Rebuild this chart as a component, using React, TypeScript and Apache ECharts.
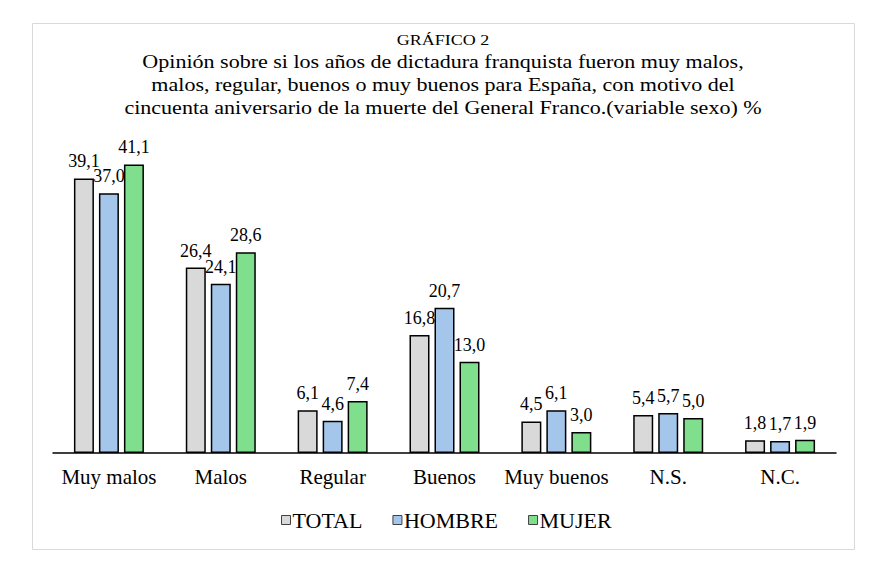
import React, { useEffect, useRef } from "react";
import * as echarts from "echarts";

const categories = ["Muy malos", "Malos", "Regular", "Buenos", "Muy buenos", "N.S.", "N.C."];
const totalValues = [39.1, 26.4, 6.1, 16.8, 4.5, 5.4, 1.8];
const hombreValues = [37.0, 24.1, 4.6, 20.7, 6.1, 5.7, 1.7];
const mujerValues = [41.1, 28.6, 7.4, 13.0, 3.0, 5.0, 1.9];
const seriesNames = ["TOTAL", "HOMBRE", "MUJER"];
const seriesColors = ["#d9d9d9", "#a4c6ea", "#7fdf8c"];
const chartLabel = "GRÁFICO 2";
const titleLines = [
  "Opinión sobre si los años de dictadura franquista fueron muy malos,",
  "malos, regular, buenos o muy buenos para España, con motivo del",
  "cincuenta aniversario de la muerte del General Franco.(variable sexo) %",
];

const FONT = "Liberation Serif, Times New Roman, serif";
const CX = 443;

export default function App() {
  const ref = useRef<HTMLDivElement>(null);
  useEffect(() => {
    if (!ref.current) return;
    const chart = echarts.init(ref.current, null, { renderer: "svg" });
    const data = [totalValues, hombreValues, mujerValues];
    const mkText = (text: string, y: number, size: number) => ({
      type: "text",
      x: CX,
      y,
      scaleX: 1.16,
      style: {
        text,
        fontFamily: FONT,
        fontSize: size,
        fill: "#000",
        textAlign: "center",
        textVerticalAlign: "middle",
      },
      silent: true,
    });
    const titleGraphics: any[] = [
      mkText(chartLabel, 40, 15.5),
      ...titleLines.map((t, i) => mkText(t, 62 + i * 23, 19)),
    ];
    chart.setOption({
      animation: false,
      backgroundColor: "#ffffff",
      textStyle: { fontFamily: FONT },
      graphic: [
        {
          type: "rect",
          shape: { x: 32.5, y: 23.5, width: 822, height: 526 },
          style: { fill: "none", stroke: "#d9d9d9", lineWidth: 1 },
          silent: true,
        },
        ...titleGraphics,
      ],
      legend: {
        top: 504,
        left: 276,
        itemWidth: 9,
        itemHeight: 9,
        itemGap: 30,
        icon: "rect",
        data: seriesNames.map((n, i) => ({
          name: n,
          itemStyle: { color: seriesColors[i], borderColor: "#404040", borderWidth: 1 },
        })),
        textStyle: { fontFamily: FONT, fontSize: 22, color: "#000", padding: [0, 0, 0, -3] },
      },
      grid: { left: 53, right: 44, top: 137, bottom: 114, containLabel: false },
      xAxis: {
        type: "category",
        data: categories,
        axisLine: { lineStyle: { color: "#000", width: 1.5 } },
        axisTick: { show: false },
        axisLabel: { fontFamily: FONT, fontSize: 21, color: "#000", margin: 13, interval: 0 },
      },
      yAxis: {
        type: "value",
        min: 0,
        max: 45,
        show: false,
        splitLine: { show: false },
      },
      series: seriesNames.map((name, i) => ({
        name,
        type: "bar",
        data: data[i],
        barWidth: 20,
        barGap: "25%",
        itemStyle: { color: seriesColors[i], borderColor: "#000", borderWidth: 1.5 },
        label: {
          show: true,
          position: "top",
          distance: 8,
          fontFamily: FONT,
          fontSize: 18,
          color: "#000",
          formatter: (p: any) => p.value.toFixed(1).replace(".", ","),
        },
      })),
    });
    return () => chart.dispose();
  }, []);
  return (
    <div
      ref={ref}
      style={{ position: "absolute", left: 0, top: 0, width: 880, height: 567 }}
    />
  );
}
